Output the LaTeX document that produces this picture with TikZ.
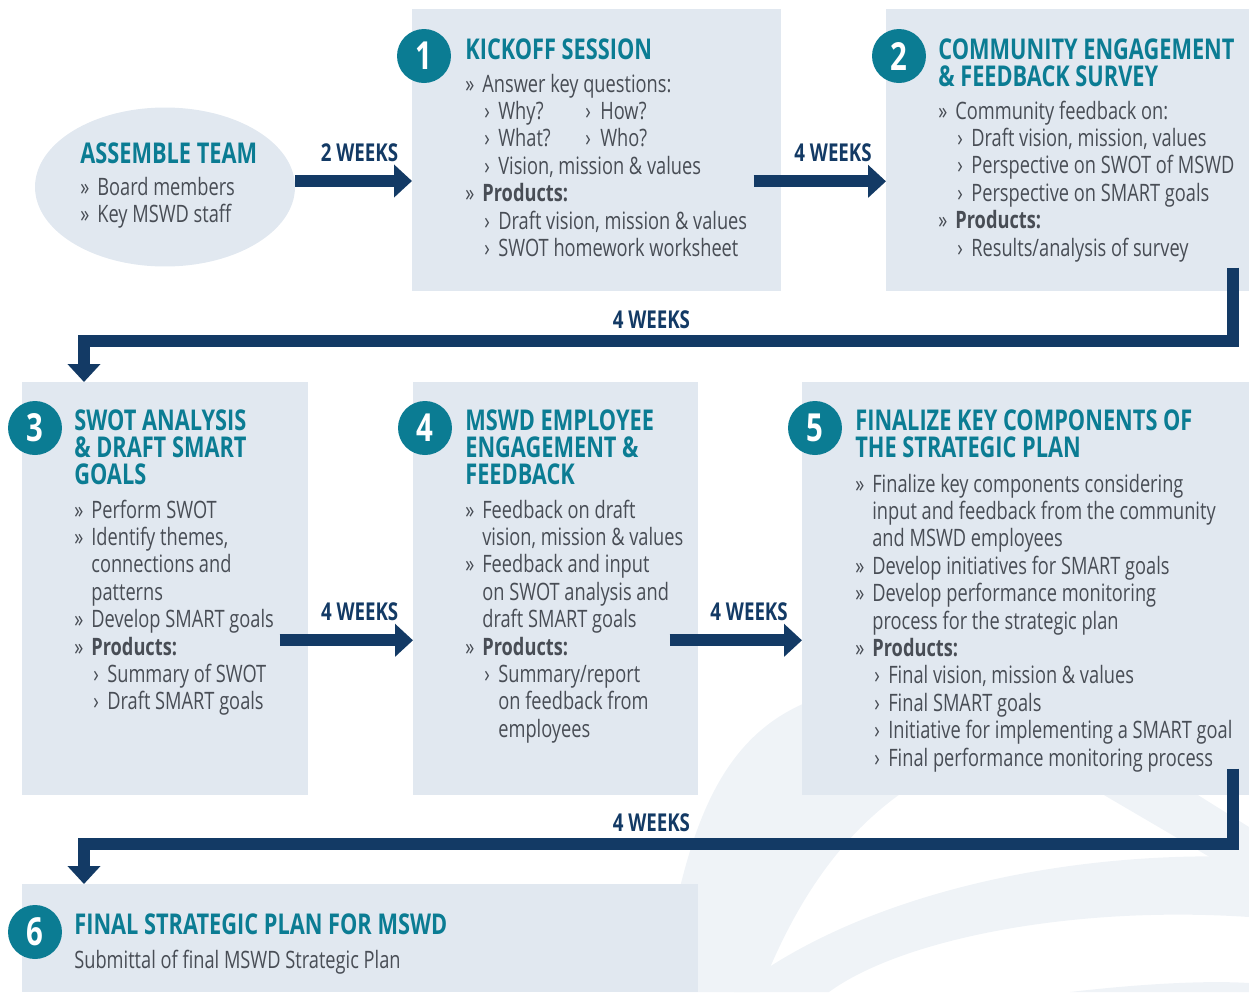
\documentclass[tikz,border=0pt]{standalone}
\usepackage{fontspec}
\setmainfont{Open Sans}[FakeStretch=0.76]
\usetikzlibrary{arrows.meta,shapes.geometric}

\definecolor{boxfill}{HTML}{E1E8F0}
\definecolor{swoosh}{HTML}{EFF3F7}
\definecolor{teal}{HTML}{0B7C93}
\definecolor{navy}{HTML}{133A65}
\definecolor{txtgrey}{HTML}{484D55}

% list markers
\newcommand\bl{\makebox[0.34cm][l]{»}}
\newcommand\sbl{\hspace*{0.38cm}\makebox[0.28cm][l]{›}}
\newcommand\cont{\hspace*{0.34cm}}
\newcommand\scont{\hspace*{0.66cm}}
\newcommand\products{\bl\textbf{Products:}}
\newcommand\blk[1]{\parbox[t]{9.5cm}{\raggedright #1}}

\tikzset{
  stagebox/.style={fill=boxfill, inner sep=0, anchor=north west},
  num/.style={circle, fill=teal, text=white, inner sep=0, minimum size=1.08cm,
    font=\bfseries\fontsize{22}{22}\selectfont},
  head/.style={anchor=base west, inner sep=0, text=teal,
    font=\bfseries\fontsize{16.3}{15.5}\selectfont},
  body/.style={anchor=base west, inner sep=0, text=txtgrey,
    font=\fontsize{13.65}{15.6}\selectfont},
  weeks/.style={text=navy, inner sep=0, font=\bfseries\fontsize{14}{14}\selectfont},
  flow/.style={draw=navy, line width=0.24cm, -{Triangle[length=0.36cm,width=0.64cm]}},
}

\begin{document}
\begin{tikzpicture}[x=0.02cm, y=-0.02cm]
\useasboundingbox (0,0) rectangle (1249,992);

% faint background swooshes
\fill[swoosh] (660,992) .. controls (690,800) and (730,690) .. (900,684) -- (1249,690)
  -- (1249,720) .. controls (1000,715) and (850,760) .. (760,992) -- cycle;
\fill[swoosh] (734,992) .. controls (850,900) and (1050,850) .. (1249,857)
  -- (1249,917) .. controls (1070,905) and (900,940) .. (829,992) -- cycle;
\fill[swoosh] (1070,992) .. controls (1130,985) and (1200,980) .. (1249,983) -- (1249,992) -- cycle;
\fill[swoosh] (1010,740) -- (1110,740) -- (1249,827) -- (1249,880) -- cycle;

% stage boxes
\node[ellipse, fill=boxfill, minimum width=5.2cm, minimum height=3.18cm] (team) at (165,187) {};
\node[stagebox, minimum width=7.38cm, minimum height=5.64cm] (kick) at (412,9) {};
\node[stagebox, minimum width=7.26cm, minimum height=5.64cm] (comm) at (886,9) {};
\node[stagebox, minimum width=5.72cm, minimum height=8.26cm] (swot) at (22,382) {};
\node[stagebox, minimum width=5.70cm, minimum height=8.26cm] (emp) at (413,382) {};
\node[stagebox, minimum width=8.94cm, minimum height=8.26cm] (fin) at (802,382) {};
\node[stagebox, minimum width=13.52cm, minimum height=2.16cm] (plan) at (22,884) {};

% step numbers
\node[num] (n1) at (424,56) {1};
\node[num] (n2) at (899,56) {2};
\node[num] (n3) at (35,428) {3};
\node[num] (n4) at (425,428) {4};
\node[num] (n5) at (815,428) {5};
\node[num] (n6) at (35,932) {6};

% assemble team
\node[head] (h0) at (80,163) {ASSEMBLE TEAM};
\node[body] (t0) at (80,195) {\blk{\bl Board members\\ \bl Key MSWD staff}};

% 1
\node[head] (h1) at (465,59) {KICKOFF SESSION};
\node[body] (t1) at (465,92) {\blk{\bl Answer key questions:\\
  \makebox[2.4cm][l]{\sbl Why?}\makebox[0.3cm][l]{›}How?\\
  \makebox[2.4cm][l]{\sbl What?}\makebox[0.3cm][l]{›}Who?\\
  \sbl Vision, mission \& values\\
  \products\\
  \sbl Draft vision, mission \& values\\
  \sbl SWOT homework worksheet}};

% 2
\node[head] (h2) at (938,59) {\blk{COMMUNITY ENGAGEMENT\\ \& FEEDBACK SURVEY}};
\node[body] (t2) at (938,119) {\blk{\bl Community feedback on:\\
  \sbl Draft vision, mission, values\\
  \sbl Perspective on SWOT of MSWD\\
  \sbl Perspective on SMART goals\\
  \products\\
  \sbl Results/analysis of survey}};

% 3
\node[head] (h3) at (74,430) {\blk{SWOT ANALYSIS\\ \& DRAFT SMART\\ GOALS}};
\node[body] (t3) at (74,518) {\blk{\bl Perform SWOT\\
  \bl Identify themes,\\
  \cont connections and\\
  \cont patterns\\
  \bl Develop SMART goals\\
  \products\\
  \sbl Summary of SWOT\\
  \sbl Draft SMART goals}};

% 4
\node[head] (h4) at (465,430) {\blk{MSWD EMPLOYEE\\ ENGAGEMENT \&\\ FEEDBACK}};
\node[body] (t4) at (465,518) {\blk{\bl Feedback on draft\\
  \cont vision, mission \& values\\
  \bl Feedback and input\\
  \cont on SWOT analysis and\\
  \cont draft SMART goals\\
  \products\\
  \sbl Summary/report\\
  \scont on feedback from\\
  \scont employees}};

% 5
\node[head] (h5) at (855,430) {\blk{FINALIZE KEY COMPONENTS OF\\ THE STRATEGIC PLAN}};
\node[body] (t5) at (855,492) {\blk{\bl Finalize key components considering\\
  \cont input and feedback from the community\\
  \cont and MSWD employees\\
  \bl Develop initiatives for SMART goals\\
  \bl Develop performance monitoring\\
  \cont process for the strategic plan\\
  \products\\
  \sbl Final vision, mission \& values\\
  \sbl Final SMART goals\\
  \sbl Initiative for implementing a SMART goal\\
  \sbl Final performance monitoring process}};

% 6
\node[head] (h6) at (74,934) {FINAL STRATEGIC PLAN FOR MSWD};
\node[body] (t6) at (74,968) {Submittal of final MSWD Strategic Plan};

% durations
\draw[flow] ([yshift=0.12cm]team.east) -- node[weeks, pos=0.55, above=0.27cm] {2 WEEKS}
  ([yshift=0.12cm]team.east -| kick.west);
\draw[flow] ([xshift=-0.56cm,yshift=-0.62cm]kick.east) -- node[weeks, pos=0.6, above=0.27cm] {4 WEEKS}
  ([yshift=-0.62cm]comm.west);
\draw[flow] ([xshift=-0.34cm,yshift=0.48cm]comm.south east) -- ++(0,73)
  -| node[weeks, pos=0.253, above=0.12cm] {4 WEEKS} ([xshift=1.24cm]swot.north west);
\draw[flow] ([xshift=-0.58cm,yshift=-1.03cm]swot.east) -- node[weeks, pos=0.6, above=0.27cm] {4 WEEKS}
  ([yshift=-1.03cm]swot.east -| emp.west);
\draw[flow] ([xshift=-0.58cm,yshift=-1.03cm]emp.east) -- node[weeks, pos=0.6, above=0.27cm] {4 WEEKS}
  ([yshift=-1.03cm]emp.east -| fin.west);
\draw[flow] ([xshift=-0.34cm,yshift=0.54cm]fin.south east) -- ++(0,75)
  -| node[weeks, pos=0.253, above=0.12cm] {4 WEEKS} ([xshift=1.24cm]plan.north west);
\end{tikzpicture}
\end{document}
